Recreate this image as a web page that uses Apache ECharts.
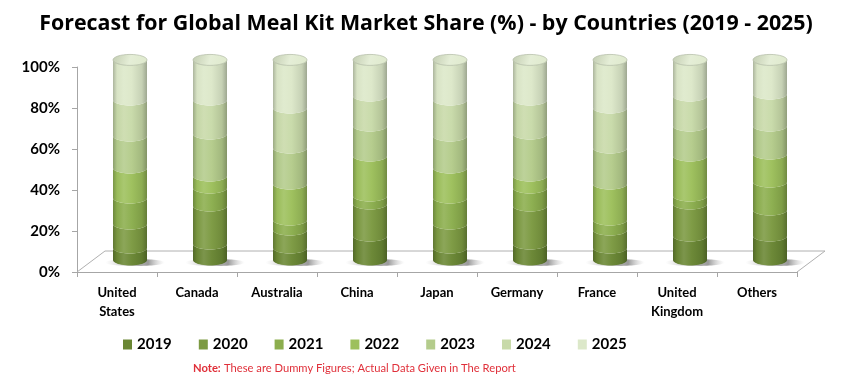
<!DOCTYPE html>
<html>
<head>
<meta charset="utf-8">
<script src="https://cdn.jsdelivr.net/npm/echarts@6/dist/echarts.min.js"></script>
<style>
html,body{margin:0;padding:0;background:#fff;}
#main{width:852px;height:384px;}
</style>
</head>
<body>
<div id="main"></div>
<script>
// ---- data ----
var categories = ['United\nStates', 'Canada', 'Australia', 'China', 'Japan', 'Germany', 'France', 'United\nKingdom', 'Others'];
var years = ['2019', '2020', '2021', '2022', '2023', '2024', '2025'];
var s2019 = [6, 8, 6, 12, 6, 8, 6, 12, 12];
var s2020 = [12, 19, 9, 16, 12, 19, 9, 16, 13];
var s2021 = [13, 9, 5, 4, 13, 9, 5, 4, 14];
var s2022 = [15, 6, 18, 20, 15, 6, 18, 20, 14];
var s2023 = [16, 21, 18, 15, 16, 21, 18, 15, 14];
var s2024 = [18, 17, 20, 15, 18, 17, 20, 15, 16];
var s2025 = [20, 20, 24, 18, 20, 20, 24, 18, 17];
var seriesValues = [s2019, s2020, s2021, s2022, s2023, s2024, s2025];
var yTicks = [0, 20, 40, 60, 80, 100];
var colors = ['#6a8734', '#7c9a42', '#8cae4e', '#9dc05c', '#b4cc8c', '#c8daa9', '#dce8c9'];

// ---- helpers ----
function hexToRgb(h) {
  h = h.replace('#', '');
  return [parseInt(h.substr(0, 2), 16), parseInt(h.substr(2, 2), 16), parseInt(h.substr(4, 2), 16)];
}
function adj(hex, f) {
  var c = hexToRgb(hex);
  var r = c.map(function (v) {
    var n = f >= 0 ? v + (255 - v) * f : v * (1 + f);
    return Math.max(0, Math.min(255, Math.round(n)));
  });
  return 'rgb(' + r.join(',') + ')';
}
function cylGrad(c) {
  return new echarts.graphic.LinearGradient(0, 0, 1, 0, [
    { offset: 0, color: adj(c, -0.22) },
    { offset: 0.12, color: adj(c, -0.02) },
    { offset: 0.32, color: adj(c, 0.12) },
    { offset: 0.55, color: adj(c, 0.02) },
    { offset: 0.85, color: adj(c, -0.1) },
    { offset: 1, color: adj(c, -0.28) }
  ]);
}

// cumulative stacks
var cum = [];
var running = categories.map(function () { return 0; });
seriesValues.forEach(function (arr, si) {
  var rows = [];
  arr.forEach(function (v, i) {
    rows.push([i, running[i], running[i] + v]);
    running[i] += v;
  });
  cum.push(rows);
});

function proj(api, yPix, base0) {
  // slight 3D depth offset/compression
  return base0 - 12 + (yPix - base0) * 0.976;
}

function makeRender(si) {
  return function (params, api) {
    var i = api.value(0);
    var lo = api.value(1), hi = api.value(2);
    var p0 = api.coord([i, 0]);
    var pLo = api.coord([i, lo]);
    var pHi = api.coord([i, hi]);
    var bw = api.size([1, 0])[0];
    var cx = p0[0] + bw * 0.1625;
    var rx = bw * 0.2125;
    var ry = 5.5;
    var yB = proj(api, pLo[1], p0[1]);
    var yT = proj(api, pHi[1], p0[1]);
    var pts = [];
    var N = 24, k, t;
    pts.push([cx - rx, yT]);
    for (k = 0; k <= N; k++) {
      t = Math.PI - Math.PI * k / N;
      pts.push([cx + rx * Math.cos(t), yB + ry * Math.sin(t)]);
    }
    for (k = 0; k <= N; k++) {
      t = Math.PI * k / N;
      pts.push([cx + rx * Math.cos(t), yT + ry * Math.sin(t)]);
    }
    var children = [];
    if (si === 0) {
      children.push({
        type: 'ellipse',
        shape: { cx: cx + 5, cy: yB + 2.5, rx: rx * 1.75, ry: 3.5 },
        style: {
          fill: new echarts.graphic.LinearGradient(0, 0, 1, 0, [
            { offset: 0, color: 'rgba(170,170,170,0)' },
            { offset: 0.25, color: 'rgba(150,150,150,0.35)' },
            { offset: 0.72, color: 'rgba(70,70,70,0.55)' },
            { offset: 1, color: 'rgba(170,170,170,0)' }
          ])
        },
        z2: 0
      });
    }
    children.push({
      type: 'polygon',
      shape: { points: pts },
      style: { fill: cylGrad(colors[si]), stroke: null },
      z2: 1
    });
    if (si === seriesValues.length - 1) {
      children.push({
        type: 'ellipse',
        shape: { cx: cx, cy: yT, rx: rx, ry: ry },
        style: {
          fill: new echarts.graphic.LinearGradient(0, 0, 1, 1, [
            { offset: 0, color: adj(colors[si], -0.12) },
            { offset: 0.5, color: adj(colors[si], 0.25) },
            { offset: 1, color: adj(colors[si], 0.05) }
          ]),
          stroke: adj(colors[si], -0.25),
          lineWidth: 0.6
        },
        z2: 2
      });
    }
    return { type: 'group', children: children };
  };
}

function renderFloor(params, api) {
  var p0 = api.coord([0, 0]);
  var pN = api.coord([categories.length - 1, 0]);
  var bw = api.size([1, 0])[0];
  var L = p0[0] - bw / 2, R = pN[0] + bw / 2, y = p0[1];
  var dx = bw * 0.35, dy = -21;
  return {
    type: 'polyline',
    shape: { points: [[L, y], [L + dx, y + dy], [R + dx, y + dy], [R, y]] },
    style: { stroke: '#b0b0b0', lineWidth: 1, fill: null },
    silent: true
  };
}

var series = [{
  type: 'custom',
  name: 'floor',
  renderItem: renderFloor,
  data: [[0]],
  silent: true,
  z: 1
}];
years.forEach(function (y, si) {
  series.push({
    type: 'custom',
    name: y,
    renderItem: makeRender(si),
    data: cum[si],
    encode: { x: 0, y: 2 },
    itemStyle: { color: colors[si] },
    z: 2
  });
});

var chart = echarts.init(document.getElementById('main'), null, { renderer: 'canvas' });
chart.setOption({
  animation: false,
  backgroundColor: '#ffffff',
  textStyle: { fontFamily: 'Lato' },
  title: {
    text: 'Forecast for Global Meal Kit Market Share (%) - by Countries (2019 - 2025)',
    left: 'center',
    top: 8,
    textStyle: { fontFamily: 'Open Sans', fontWeight: 'bold', fontSize: 21.4, color: '#000' }
  },
  grid: { left: 77, right: 55, top: 67, bottom: 112 },
  xAxis: {
    type: 'category',
    data: categories,
    axisLine: { lineStyle: { color: '#a6a6a6' } },
    axisTick: { show: true, length: 5, lineStyle: { color: '#a6a6a6' } },
    axisLabel: { margin: 11, interval: 0, color: '#000', fontWeight: 'bold', fontSize: 13, lineHeight: 19, fontFamily: 'Lato' }
  },
  yAxis: {
    type: 'value',
    min: yTicks[0],
    max: yTicks[yTicks.length - 1],
    interval: yTicks[1] - yTicks[0],
    axisLine: { show: true, lineStyle: { color: '#a6a6a6' } },
    axisTick: { show: true, length: 5, lineStyle: { color: '#a6a6a6' } },
    splitLine: { show: false },
    axisLabel: { formatter: '{value}%', margin: 17, color: '#000', fontWeight: 'bold', fontSize: 15, fontFamily: 'Lato' }
  },
  legend: {
    data: years,
    left: 123,
    top: 337,
    padding: 0,
    icon: 'rect',
    itemWidth: 9,
    itemHeight: 10,
    itemGap: 27,
    textStyle: { fontFamily: 'Lato', fontWeight: 'bold', fontSize: 15, color: '#000' }
  },
  graphic: [{
    type: 'text',
    left: 193,
    top: 362,
    style: {
      text: '{b|Note:} {r|These are Dummy Figures; Actual Data Given in The Report}',
      rich: {
        b: { fontFamily: 'Lato', fontWeight: 'bold', fontSize: 11.2, fill: '#e0303a' },
        r: { fontFamily: 'Lato', fontSize: 11.2, fill: '#e0303a' }
      }
    }
  }],
  series: series
});
</script>
</body>
</html>
